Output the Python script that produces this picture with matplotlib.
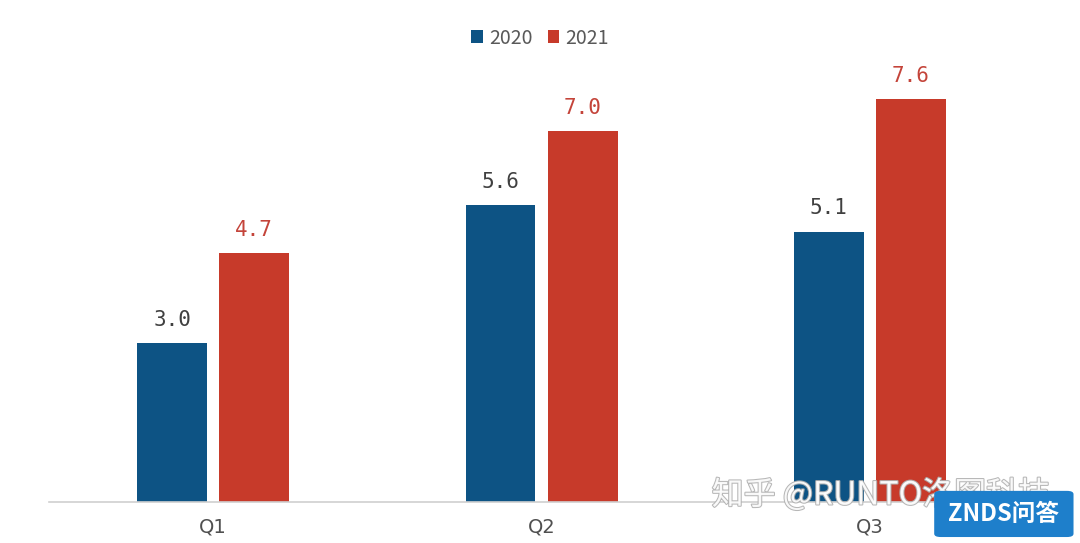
import matplotlib
matplotlib.use('Agg')
import matplotlib.pyplot as plt
import matplotlib.patheffects as pe
from matplotlib.patches import FancyBboxPatch
import numpy as np

plt.rcParams['font.family'] = ['Noto Sans CJK SC', 'DejaVu Sans']

quarters = ["Q1", "Q2", "Q3"]
years = ["2020", "2021"]
vals_2020 = [3.0, 5.6, 5.1]
vals_2021 = [4.7, 7.0, 7.6]

BLUE = "#0D5384"
RED = "#C73A2A"

fig = plt.figure(figsize=(10.8, 5.43), dpi=100)
ax = fig.add_axes([0.0454, 0.0755, 0.912, 0.83])

x = np.arange(len(quarters))
w = 0.213
off = 0.125
b1 = ax.bar(x - off, vals_2020, w, color=BLUE, label=years[0])
b2 = ax.bar(x + off, vals_2021, w, color=RED, label=years[1])

for bar, v in zip(b1, vals_2020):
    ax.text(bar.get_x() + bar.get_width() / 2, v + 0.25, f"{v:.1f}",
            ha="center", va="bottom", fontsize=15, color="#404040",
            family="DejaVu Sans Mono")
for bar, v in zip(b2, vals_2021):
    ax.text(bar.get_x() + bar.get_width() / 2, v + 0.25, f"{v:.1f}",
            ha="center", va="bottom", fontsize=15, color="#C4443A",
            family="DejaVu Sans Mono")

ax.set_xlim(-0.5, 2.5)
ax.set_ylim(0, 8.5)
ax.set_xticks(x)
ax.set_xticklabels(quarters, fontsize=14, color="#505050", family="Liberation Sans Narrow")
ax.tick_params(axis="x", length=0, pad=11)
ax.set_yticks([])
for s in ["top", "right", "left"]:
    ax.spines[s].set_visible(False)
ax.spines["bottom"].set_color("#D0D0D0")
ax.spines["bottom"].set_linewidth(1.2)

leg = fig.legend(handles=[b1, b2], labels=years, loc="center", bbox_to_anchor=(0.5, 0.93),
                 ncol=2, frameon=False, fontsize=14, handlelength=0.6, handleheight=0.6,
                 handletextpad=0.3, columnspacing=0.8)
for t in leg.get_texts():
    t.set_color("#595959")

# watermark
fig.text(0.659, 0.088, "知乎 @RUNTO洛图科技", fontsize=23, color="white", alpha=0.9,
         ha="left", va="center", zorder=4,
         path_effects=[pe.withStroke(linewidth=1.5, foreground="#B0B0B0")])
box = FancyBboxPatch((0.867, 0.013), 0.125, 0.081, boxstyle="round,pad=0.002,rounding_size=0.006",
                     transform=fig.transFigure, facecolor="#1E7FCB", edgecolor="none", zorder=5)
fig.patches.append(box)
fig.text(0.929, 0.053, "ZNDS问答", fontsize=17, color="white", weight="bold",
         style="italic", ha="center", va="center", zorder=6)

fig.savefig("out.png", dpi=100)
